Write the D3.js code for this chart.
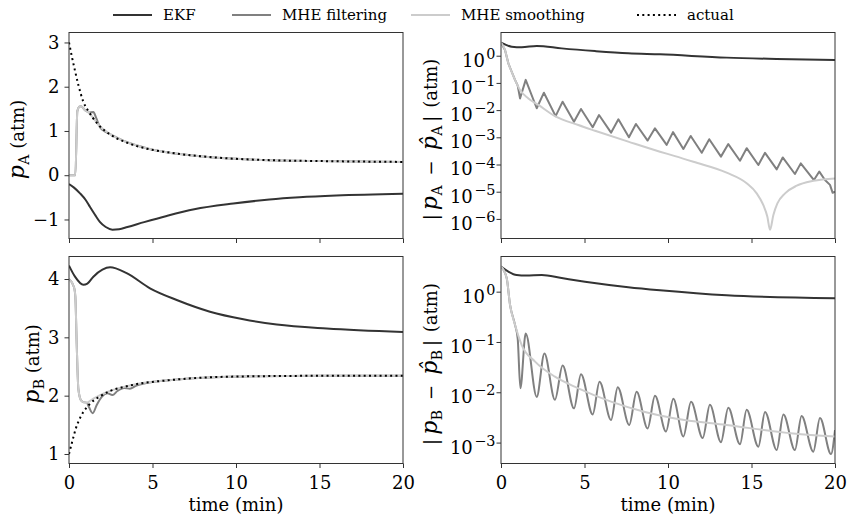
<!DOCTYPE html>
<html><head><meta charset="utf-8">
<script src="https://cdn.jsdelivr.net/npm/d3@7"></script>
<style>
body{margin:0;background:#fff;}
svg text{font-family:"DejaVu Serif";fill:#000;}
</style></head><body>
<svg id="c" width="849" height="518"></svg>
<script>
// ---------- data ----------
const legendLabels = ["EKF", "MHE filtering", "MHE smoothing", "actual"];
const xTicks = [0, 5, 10, 15, 20];
const paTicks = [-1, 0, 1, 2, 3];
const pbTicks = [1, 2, 3, 4];
const errATickExp = [0, -1, -2, -3, -4, -5, -6];
const errBTickExp = [0, -1, -2, -3];

// top-left: p_A
const tActualA = [0, 0.16, 0.36, 0.56, 0.86, 1.16, 1.46, 1.76, 2.46, 3.45, 4.65, 5.85, 7.84, 10, 12, 15, 20];
const actualA  = [3.0, 2.70, 2.36, 2.04, 1.66, 1.45, 1.28, 1.14, 0.92, 0.74, 0.60, 0.52, 0.43, 0.37, 0.34, 0.32, 0.30];
const tEkfA = [0, 0.3, 0.66, 1.0, 1.26, 1.6, 1.86, 2.2, 2.6, 3.0, 3.5, 4.5, 5.85, 7.5, 9.84, 12, 13.8, 16, 20];
const ekfA  = [-0.20, -0.28, -0.41, -0.56, -0.72, -0.92, -1.06, -1.17, -1.23, -1.22, -1.17, -1.06, -0.92, -0.77, -0.64, -0.55, -0.50, -0.46, -0.42];
const tFiltA = [0, 0.38, 0.5, 0.62, 0.72, 0.96, 1.2, 1.46, 1.62, 1.86, 2.2, 2.46, 3.45, 4.65, 5.85, 7.84, 10, 12, 15, 20];
const filtA  = [0, 0, 1.45, 1.55, 1.56, 1.47, 1.42, 1.43, 1.30, 1.08, 0.98, 0.93, 0.75, 0.61, 0.52, 0.43, 0.37, 0.34, 0.32, 0.30];
const tSmoothA = [0, 0.38, 0.5, 0.62, 0.72, 0.96, 1.16, 1.46, 1.76, 2.46, 3.45, 4.65, 5.85, 7.84, 10, 12, 15, 20];
const smoothA  = [0, 0, 1.45, 1.55, 1.56, 1.47, 1.42, 1.29, 1.14, 0.93, 0.75, 0.61, 0.52, 0.43, 0.37, 0.34, 0.32, 0.30];

// bottom-left: p_B
const tActualB = [0, 0.2, 0.4, 0.6, 0.86, 1.26, 1.8, 2.46, 3.45, 4.5, 5.45, 7.45, 10.44, 15, 20];
const actualB  = [1.0, 1.22, 1.43, 1.58, 1.72, 1.86, 1.98, 2.08, 2.16, 2.22, 2.25, 2.30, 2.33, 2.34, 2.34];
const tEkfB = [0, 0.36, 0.86, 1.1, 1.46, 2.0, 2.46, 3.45, 4.85, 6.45, 8.44, 10.44, 12.44, 15.43, 20];
const ekfB  = [4.23, 4.04, 3.90, 3.92, 4.04, 4.16, 4.20, 4.10, 3.84, 3.64, 3.44, 3.31, 3.22, 3.15, 3.09];
const tFiltB = [0, 0.3, 0.38, 0.46, 0.56, 0.7, 0.85, 1.06, 1.2, 1.42, 1.66, 1.96, 2.3, 2.6, 2.9, 3.3, 3.65, 4.0, 4.5, 5.45, 7.45, 10.44, 15, 20];
const filtB  = [4.0, 3.86, 3.7, 2.9, 2.12, 1.93, 1.89, 1.88, 1.80, 1.70, 1.84, 1.98, 2.04, 2.01, 2.08, 2.13, 2.12, 2.17, 2.21, 2.25, 2.30, 2.33, 2.34, 2.34];
const tSmoothB = [0, 0.3, 0.38, 0.46, 0.56, 0.7, 0.85, 1.06, 1.46, 1.86, 2.46, 3.45, 4.5, 5.45, 7.45, 10.44, 15, 20];
const smoothB  = [4.0, 3.86, 3.7, 2.9, 2.12, 1.93, 1.89, 1.88, 1.95, 2.01, 2.08, 2.16, 2.22, 2.25, 2.30, 2.33, 2.34, 2.34];

// top-right: |p_A - p_A hat|
const tErrEkfA = [0, 0.3, 0.64, 1.24, 2.14, 3.63, 5.63, 7.62, 9.52, 13.51, 16.5, 20];
const errEkfA  = [3.02, 2.51, 2.14, 2.04, 2.29, 1.86, 1.48, 1.23, 1.12, 0.85, 0.76, 0.69];
const tErrFiltA = [0, 0.24, 0.44, 0.64, 0.84, 1.0, 1.14, 1.48, 2.14, 2.57, 3.27, 3.69, 4.37, 4.79, 5.49, 5.87, 6.59, 7.03, 7.66, 8.08, 8.78, 9.22, 9.92, 10.3, 10.92, 11.36, 12.02, 12.47, 13.17, 13.61, 14.31, 14.71, 15.41, 15.81, 16.51, 16.87, 17.6, 17.95, 18.74, 19.06, 19.4, 19.7, 19.86, 20];
const errFiltA  = [3.02, 1.62, 0.525, 0.257, 0.129, 0.0794, 0.0269, 0.129, 0.0117, 0.0437, 0.00603, 0.0204, 0.00372, 0.011, 0.00234, 0.0066, 0.00148, 0.00457, 0.001, 0.00309, 0.000759, 0.00214, 0.000525, 0.00155, 0.000372, 0.00112, 0.000269, 0.000851, 0.000195, 0.000562, 0.000138, 0.000398, 0.0000955, 0.000269, 0.0000661, 0.000182, 0.0000447, 0.00011, 0.0000269, 0.000055, 0.0000269, 0.0000178, 0.0000091, 0.00001];
const tErrSmoothA = [0, 0.24, 0.44, 0.64, 0.84, 1.14, 1.64, 2.24, 3.23, 4.63, 5.63, 7.62, 9.52, 10.42, 11.52, 13.51, 14.71, 15.31, 15.71, 15.95, 16.11, 16.31, 16.55, 17.01, 17.71, 18.7, 20];
const errSmoothA  = [3.02, 1.62, 0.525, 0.257, 0.129, 0.055, 0.0269, 0.0155, 0.00603, 0.00282, 0.00174, 0.000692, 0.000295, 0.000204, 0.000126, 0.0000501, 0.0000204, 0.0000087, 0.0000032, 0.0000012, 0.0000004, 0.0000014, 0.0000037, 0.0000087, 0.0000166, 0.0000251, 0.0000309];

// bottom-right: |p_B - p_B hat|
const tErrEkfB = [0, 0.44, 0.94, 1.5, 2.44, 3.63, 5.03, 7.62, 9.52, 13.51, 20];
const errEkfB  = [3.16, 2.51, 2.14, 2.09, 2.14, 1.86, 1.58, 1.23, 1.07, 0.85, 0.74];
const tErrFiltB = [0, 0.34, 0.54, 0.84, 1.0, 1.16, 1.48, 2.14, 2.6, 3.23, 3.69, 4.37, 4.79, 5.49, 5.9, 6.59, 6.99, 7.68, 8.12, 8.78, 9.22, 9.88, 10.32, 10.92, 11.38, 12.08, 12.51, 13.17, 13.61, 14.31, 14.71, 15.41, 15.81, 16.51, 16.91, 17.6, 18.0, 18.7, 19.1, 19.76, 20];
const errFiltB  = [3.16, 1.86, 0.55, 0.219, 0.117, 0.012, 0.148, 0.0081, 0.0589, 0.00708, 0.0339, 0.00479, 0.0229, 0.00363, 0.0162, 0.00282, 0.0126, 0.00224, 0.0102, 0.00191, 0.00851, 0.00166, 0.00741, 0.00132, 0.00646, 0.00123, 0.00562, 0.00102, 0.0049, 0.00093, 0.00447, 0.00083, 0.00407, 0.00071, 0.00363, 0.00071, 0.00339, 0.00066, 0.00309, 0.00059, 0.00178];
const tErrSmoothB = [0, 0.34, 0.54, 0.84, 1.24, 2.04, 3.23, 4.63, 6.63, 8.62, 10.42, 13.51, 17.5, 20];
const errSmoothB  = [3.16, 1.86, 0.55, 0.219, 0.087, 0.0407, 0.0204, 0.012, 0.00646, 0.00407, 0.00302, 0.00224, 0.00151, 0.00132];

// ---------- styling / layout ----------
const C_EKF = "#333333", C_FILT = "#808080", C_SMOOTH = "#cccccc", C_ACT = "#000000", C_AX = "#333333";
const LW = 2;
const FS = 18;
const svg = d3.select("#c");
const zip = (t, v) => t.map((d, i) => [d, v[i]]);

const panels = [
  {id: "tl", left: 69, right: 403, top: 32.5, bottom: 238.5, log: false, domain: [-1.43, 3.225], ticks: paTicks, xlab: false,
   series: [[tEkfA, ekfA, "ekf"], [tFiltA, filtA, "filt"], [tSmoothA, smoothA, "smooth"], [tActualA, actualA, "act"]],
   ylabel: {x: 19, sub: "A"}},
  {id: "tr", left: 501, right: 835, top: 32.5, bottom: 238.5, log: true, domain: [1.905e-7, 7.13], ticks: errATickExp, xlab: false,
   series: [[tErrEkfA, errEkfA, "ekf"], [tErrFiltA, errFiltA, "filtLin"], [tErrSmoothA, errSmoothA, "smooth"]],
   ylabel: {x: 432, sub: "A", err: true}},
  {id: "bl", left: 69, right: 403, top: 256.5, bottom: 463.5, log: false, domain: [0.837, 4.386], ticks: pbTicks, xlab: true,
   series: [[tEkfB, ekfB, "ekf"], [tFiltB, filtB, "filt"], [tSmoothB, smoothB, "smooth"], [tActualB, actualB, "act"]],
   ylabel: {x: 34, sub: "B"}},
  {id: "br", left: 501, right: 835, top: 256.5, bottom: 463.5, log: true, domain: [3.84e-4, 5.0], ticks: errBTickExp, xlab: true,
   series: [[tErrEkfB, errEkfB, "ekf"], [tErrFiltB, errFiltB, "filt"], [tErrSmoothB, errSmoothB, "smooth"]],
   ylabel: {x: 432, sub: "B", err: true}}
];

const styleOf = {
  ekf: {c: C_EKF, dash: null, curve: d3.curveMonotoneX},
  filt: {c: C_FILT, dash: null, curve: d3.curveMonotoneX},
  filtLin: {c: C_FILT, dash: null, curve: d3.curveLinear},
  smooth: {c: C_SMOOTH, dash: null, curve: d3.curveMonotoneX},
  act: {c: C_ACT, dash: "2,3.3", curve: d3.curveMonotoneX}
};

const minus = s => String(s).replace("-", "\u2212");

panels.forEach(p => {
  const x = d3.scaleLinear().domain([0, 20]).range([p.left, p.right]);
  const y = (p.log ? d3.scaleLog() : d3.scaleLinear()).domain(p.domain).range([p.bottom, p.top]);
  const g = svg.append("g");

  svg.append("clipPath").attr("id", "clip-" + p.id).append("rect")
    .attr("x", p.left).attr("y", p.top).attr("width", p.right - p.left).attr("height", p.bottom - p.top);

  const lines = g.append("g").attr("clip-path", `url(#clip-${p.id})`);
  p.series.forEach(([t, v, k]) => {
    const st = styleOf[k];
    lines.append("path")
      .datum(zip(t, v))
      .attr("fill", "none").attr("stroke", st.c).attr("stroke-width", LW)
      .attr("stroke-dasharray", st.dash)
      .attr("stroke-linejoin", "round")
      .attr("d", d3.line().x(d => x(d[0])).y(d => y(d[1])).curve(st.curve));
  });

  // x axis
  const xa = d3.axisBottom(x).tickValues(xTicks).tickSize(4.5).tickPadding(8)
    .tickFormat(p.xlab ? d3.format("d") : () => "");
  const gx = g.append("g").attr("transform", `translate(0,${p.bottom})`).call(xa);
  // y axis
  const ya = d3.axisLeft(y).tickSize(4.5);
  if (p.log) {
    ya.tickValues(p.ticks.map(e => Math.pow(10, e))).tickPadding(1).tickFormat(() => "");
  } else {
    ya.tickValues(p.ticks).tickPadding(5).tickFormat(d => minus(d));
  }
  const gy = g.append("g").attr("transform", `translate(${p.left},0)`).call(ya);
  if (p.log) {
    gy.selectAll(".tick text").each(function (d) {
      const e = Math.round(Math.log10(d));
      const t = d3.select(this).attr("dy", "0.58em");
      t.text(null);
      t.append("tspan").text("10");
      t.append("tspan").attr("dx", 1.5).attr("dy", "-0.55em").attr("font-size", "0.8em").text(minus(e));
    });
  }
  [gx, gy].forEach(a => {
    a.attr("font-family", null).attr("font-size", FS);
    a.select(".domain").remove();
    a.selectAll(".tick line").attr("stroke", C_AX).attr("stroke-width", 1);
  });

  // frame
  g.append("rect").attr("x", p.left).attr("y", p.top)
    .attr("width", p.right - p.left).attr("height", p.bottom - p.top)
    .attr("fill", "none").attr("stroke", C_AX).attr("stroke-width", 1);

  // y label
  const cy = (p.top + p.bottom) / 2 + 4;
  const yl = g.append("text").attr("transform", `translate(${p.ylabel.x},${cy}) rotate(-90)`)
    .attr("text-anchor", "middle").attr("dy", "0.3em").attr("font-size", 18);
  const addP = (hat, dx) => {
    yl.append("tspan").attr("dx", dx).attr("font-style", "italic").attr("font-size", 22).text(hat ? "p\u0302" : "p");
    yl.append("tspan").attr("dx", 0.5).attr("dy", 4.5).attr("font-size", 14).text(p.ylabel.sub);
  };
  if (p.ylabel.err) {
    yl.append("tspan").text("|");
    addP(false, 4);
    yl.append("tspan").attr("dx", 10).attr("dy", -4.5).text("\u2212");
    addP(true, 10);
    yl.append("tspan").attr("dx", 4).attr("dy", -4.5).text("|");
    yl.append("tspan").attr("dx", 2).text(" (atm)");
  } else {
    addP(false, 0);
    yl.append("tspan").attr("dy", -4.5).text(" (atm)");
  }

  if (p.xlab) {
    g.append("text").attr("x", (p.left + p.right) / 2).attr("y", 511)
      .attr("text-anchor", "middle").attr("font-size", 18).text("time (min)");
  }
});

// legend
const legX = [113, 232, 411, 637];
const legKeys = ["ekf", "filt", "smooth", "act"];
const lg = svg.append("g");
legendLabels.forEach((lab, i) => {
  const st = styleOf[legKeys[i]];
  lg.append("line").attr("x1", legX[i]).attr("x2", legX[i] + 39).attr("y1", 15).attr("y2", 15)
    .attr("stroke", st.c).attr("stroke-width", LW).attr("stroke-dasharray", st.dash);
  lg.append("text").attr("x", legX[i] + 50).attr("y", 20).attr("font-size", 15).text(lab);
});
</script>
</body></html>
